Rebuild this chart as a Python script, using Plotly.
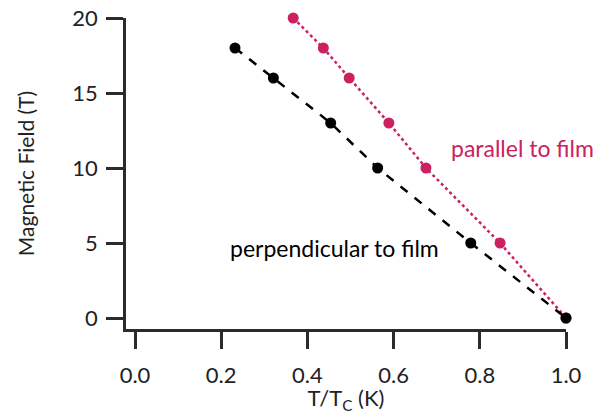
import plotly.graph_objects as go

perp_x = [0.232, 0.321, 0.454, 0.563, 0.779, 1.0]
perp_y = [18, 16, 13, 10, 5, 0]
par_x = [0.367, 0.437, 0.497, 0.589, 0.675, 0.847, 1.0]
par_y = [20, 18, 16, 13, 10, 5, 0]
x_ticks = [0.0, 0.2, 0.4, 0.6, 0.8, 1.0]
x_tick_labels = ["0.0", "0.2", "0.4", "0.6", "0.8", "1.0"]
y_ticks = [0, 5, 10, 15, 20]

RED = "#CC2060"
FONT = "Lato"
AX = "#2b2b2b"

fig = go.Figure()
fig.add_trace(go.Scatter(x=par_x, y=par_y, mode="lines+markers",
                         line=dict(color=RED, width=2.5, dash="dot"),
                         marker=dict(color=RED, size=11),
                         cliponaxis=False, showlegend=False))
fig.add_trace(go.Scatter(x=perp_x, y=perp_y, mode="lines+markers",
                         line=dict(color="black", width=2.5, dash="dash"),
                         marker=dict(color="black", size=11),
                         cliponaxis=False, showlegend=False))

fig.add_annotation(x=0.9, y=11.33, text="parallel to film", showarrow=False,
                   font=dict(family=FONT, size=23, color=RED), xanchor="center", yanchor="middle")
fig.add_annotation(x=0.464, y=4.67, text="perpendicular to film", showarrow=False,
                   font=dict(family=FONT, size=23, color="black"), xanchor="center", yanchor="middle")

fig.update_layout(
    width=600, height=414,
    margin=dict(l=126, r=34, t=18, b=85),
    plot_bgcolor="white", paper_bgcolor="white",
    font=dict(family=FONT, size=20, color="#222"),
    xaxis=dict(range=[-0.0209, 1.0], tickvals=x_ticks, ticktext=x_tick_labels, automargin=False,
               showgrid=False, zeroline=False, showline=True, linecolor=AX, linewidth=2.5,
               ticks="outside", ticklen=17, tickwidth=2.5, tickcolor=AX, ticklabelstandoff=8,
               tickfont=dict(family=FONT, size=22, color="#222"),
               title=dict(text="T/T<sub>C</sub> (K)", font=dict(family=FONT, size=22), standoff=0)),
    yaxis=dict(range=[-0.733, 20], tickvals=y_ticks, automargin=False,
               showgrid=False, zeroline=False, showline=True, linecolor=AX, linewidth=2.5,
               ticks="outside", ticklen=17, tickwidth=2.5, tickcolor=AX, ticklabelstandoff=4,
               tickfont=dict(family=FONT, size=22, color="#222"),
               title=dict(text="Magnetic Field (T)", font=dict(family=FONT, size=21), standoff=32)),
)

fig.write_html("out.html")
